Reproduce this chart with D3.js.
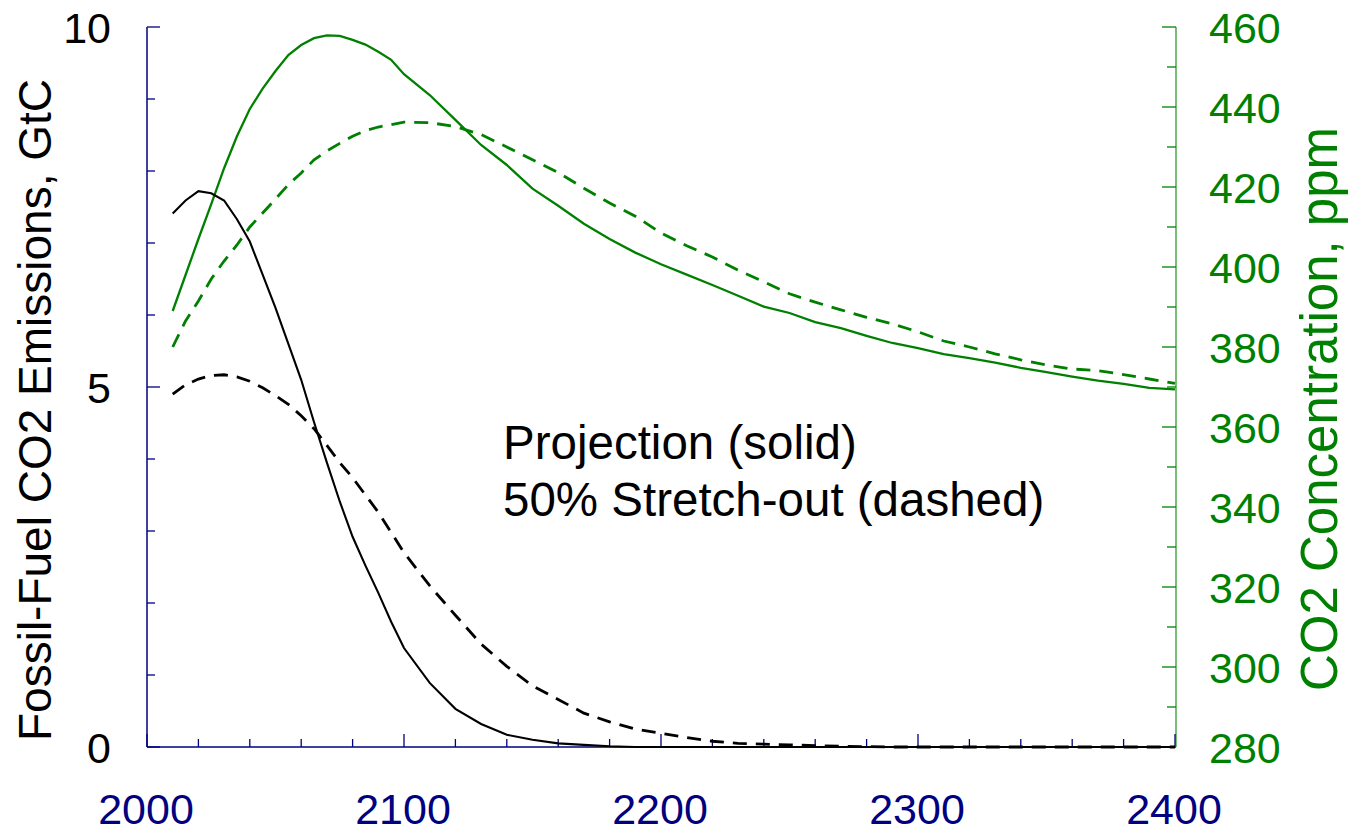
<!DOCTYPE html>
<html>
<head>
<meta charset="utf-8">
<script src="https://cdn.jsdelivr.net/npm/d3@7"></script>
<style>
  html, body { margin: 0; padding: 0; background: #fff; }
  svg { display: block; font-family: "Liberation Sans", Arial, sans-serif; }
</style>
</head>
<body>
<svg id="chart" width="1350" height="829"></svg>
<script>
// ---------------- data ----------------
const years = [2010,2015,2020,2025,2030,2035,2040,2045,2050,2055,2060,2065,2070,2075,2080,2085,2090,2095,2100,
  2110,2120,2130,2140,2150,2160,2170,2180,2190,2200,2210,2220,2230,2240,2250,2260,2270,2280,2290,2300,
  2310,2320,2330,2340,2350,2360,2370,2380,2390,2400];

// Fossil-fuel CO2 emissions, GtC
const emissionsProjection = [7.41,7.59,7.72,7.69,7.59,7.33,7.02,6.56,6.10,5.60,5.10,4.51,3.95,3.41,2.92,2.52,2.14,1.74,1.375,
  0.89,0.53,0.32,0.17,0.10,0.05,0.03,0.01,0,0,0,0,0,0,0,0,0,0,0,0,
  0,0,0,0,0,0,0,0,0,0];
const emissionsStretch = [4.90,5.03,5.11,5.16,5.17,5.14,5.08,4.99,4.88,4.76,4.60,4.42,4.19,3.95,3.74,3.50,3.26,2.98,2.70,
  2.24,1.83,1.43,1.12,0.85,0.66,0.47,0.35,0.25,0.19,0.13,0.08,0.05,0.04,0.03,0.02,0.01,0.005,0,0,
  0,0,0,0,0,0,0,0,0,0];

// CO2 concentration, ppm
const co2Projection = [389,398,407,415.7,424.7,432.7,439.5,444.6,449,453,455.5,457.2,457.9,457.8,456.8,455.6,453.8,451.8,448.2,
  443,436.8,430.5,425.5,419.6,415.3,410.8,407,403.6,400.7,398.1,395.5,392.8,390.1,388.5,386.2,384.7,382.8,381.0,379.7,
  378.2,377.2,376.1,374.8,373.7,372.6,371.6,370.8,369.8,369.4];
const co2Stretch = [380,386.5,391.5,397,401.5,405.5,410,413.5,417,420.6,423.5,426.8,429,430.9,432.7,434.1,435,435.6,436.2,
  436.1,435.1,433.1,430,426.8,423.6,419.7,416,412.7,408.5,405.3,402.5,399.2,396.3,393.3,391.2,389.3,387.4,385.8,383.8,
  381.5,380,378.3,376.8,375.5,374.5,374.1,373.1,372,370.9];

const xTickLabels = [2000, 2100, 2200, 2300, 2400];
const leftTickLabels = [0, 5, 10];
const rightTickLabels = [280,300,320,340,360,380,400,420,440,460];
const leftTitle = "Fossil-Fuel CO2 Emissions, GtC";
const rightTitle = "CO2 Concentration, ppm";
const noteLines = ["Projection (solid)", "50% Stretch-out (dashed)"];

// ---------------- layout ----------------
const NAVY = "#000080", GREEN = "#008000", BLACK = "#000";
const FS = 43;
const pL = 147, pR = 1175, pT = 27, pB = 747;

const svg = d3.select("#chart");
const x = d3.scaleLinear().domain([2000, 2400]).range([pL, pR]);
const yL = d3.scaleLinear().domain([0, 10]).range([pB, pT]);
const yR = d3.scaleLinear().domain([280, 460]).range([pB, pT]);

// ---- axes lines ----
svg.append("line").attr("x1", pL).attr("x2", pL).attr("y1", pT).attr("y2", pB)
  .attr("stroke", NAVY).attr("stroke-width", 1.5);
svg.append("line").attr("x1", pL).attr("x2", pR + 1).attr("y1", pB).attr("y2", pB)
  .attr("stroke", NAVY).attr("stroke-width", 1.5);
svg.append("line").attr("x1", pR + 1).attr("x2", pR + 1).attr("y1", pT).attr("y2", pB)
  .attr("stroke", GREEN).attr("stroke-width", 1.5).attr("opacity", 0.7);

// left ticks (inward)
d3.range(0, 11, 1).forEach(v => {
  const major = v % 5 === 0;
  svg.append("line").attr("x1", pL).attr("x2", pL + (major ? 13 : 8))
    .attr("y1", yL(v)).attr("y2", yL(v)).attr("stroke", NAVY).attr("stroke-width", 1.3);
});
// bottom ticks (inward)
d3.range(2000, 2401, 20).forEach(v => {
  const major = v % 100 === 0;
  svg.append("line").attr("x1", x(v)).attr("x2", x(v))
    .attr("y1", pB).attr("y2", pB - (major ? 13 : 8)).attr("stroke", NAVY).attr("stroke-width", 1.3);
});
// right ticks (inward)
d3.range(280, 461, 10).forEach(v => {
  const major = v % 20 === 0;
  svg.append("line").attr("x1", pR + 1).attr("x2", pR + 1 - (major ? 14 : 9))
    .attr("y1", yR(v)).attr("y2", yR(v)).attr("stroke", GREEN).attr("stroke-width", 1.3);
});

// tick labels
svg.selectAll(".xl").data(xTickLabels).join("text")
  .attr("x", d => x(d) - 1).attr("y", 824).attr("text-anchor", "middle")
  .attr("font-size", FS).attr("fill", NAVY).text(d => d);
svg.selectAll(".ll").data(leftTickLabels).join("text")
  .attr("x", 111).attr("y", d => yL(d) + 15.5).attr("text-anchor", "end")
  .attr("font-size", FS).attr("fill", BLACK).text(d => d);
svg.selectAll(".rl").data(rightTickLabels).join("text")
  .attr("x", 1209).attr("y", d => yR(d) + 15.5).attr("text-anchor", "start")
  .attr("font-size", FS).attr("fill", GREEN).text(d => d);

// titles
svg.append("text").attr("transform", `translate(51,410) rotate(-90)`)
  .attr("text-anchor", "middle").attr("font-size", 46).attr("fill", BLACK).text(leftTitle);
svg.append("text").attr("transform", `translate(1337,409) rotate(-90)`)
  .attr("text-anchor", "middle").attr("font-size", 51).attr("fill", GREEN).text(rightTitle);

// annotation
svg.selectAll(".note").data(noteLines).join("text")
  .attr("x", 503).attr("y", (d, i) => 459 + i * 57)
  .attr("font-size", 47.5).attr("fill", BLACK).text(d => d);

// ---- series ----
const lineL = d3.line().x((d, i) => x(years[i])).y(d => yL(d));
const lineR = d3.line().x((d, i) => x(years[i])).y(d => yR(d));

svg.append("path").datum(co2Stretch).attr("d", lineR).attr("fill", "none")
  .attr("stroke", GREEN).attr("stroke-width", 2.8).attr("stroke-dasharray", "14,9");
svg.append("path").datum(co2Projection).attr("d", lineR).attr("fill", "none")
  .attr("stroke", GREEN).attr("stroke-width", 2.3);
svg.append("path").datum(emissionsStretch).attr("d", lineL).attr("fill", "none")
  .attr("stroke", BLACK).attr("stroke-width", 2.8).attr("stroke-dasharray", "14,9");
svg.append("path").datum(emissionsProjection).attr("d", lineL).attr("fill", "none")
  .attr("stroke", BLACK).attr("stroke-width", 2.1);
</script>
</body>
</html>
